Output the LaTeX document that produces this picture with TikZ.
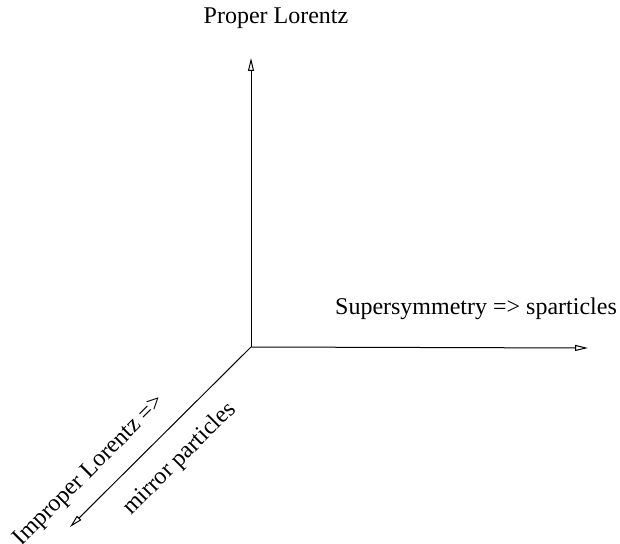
\documentclass[tikz,border=0pt]{standalone}
\usepackage{fontspec}
\setmainfont{Liberation Serif}
\usetikzlibrary{arrows.meta}

\tikzset{
  axis/.style={line width=0.5pt, -{Triangle[open,length=6.5pt,width=3pt]}},
  lbl/.style={font=\fontsize{12}{14}\selectfont, inner sep=0pt}
}

\begin{document}
\begin{tikzpicture}[x=0.5pt,y=-0.5pt]
            \useasboundingbox (0,0) rectangle (620,544);
            \coordinate (o) at (251,347);
            \coordinate (up) at (251,58);
            \coordinate (right) at (588,348);
            \coordinate (down) at (70,527);
            \draw [axis] (o) -- (up);
            \draw [axis] (o) -- (right);
            \draw [axis] (o) -- (down);
            \node [lbl] (proper) at (276,18) {Proper Lorentz};
            \node [lbl] (susy) at (476,309) {Supersymmetry => sparticles};
            \node [lbl, rotate=45] (improper) at (90,471) {Improper Lorentz =>};
            \node [lbl, rotate=45] (mirror) at (180,459) {mirror particles};
        \end{tikzpicture}
\end{document}
